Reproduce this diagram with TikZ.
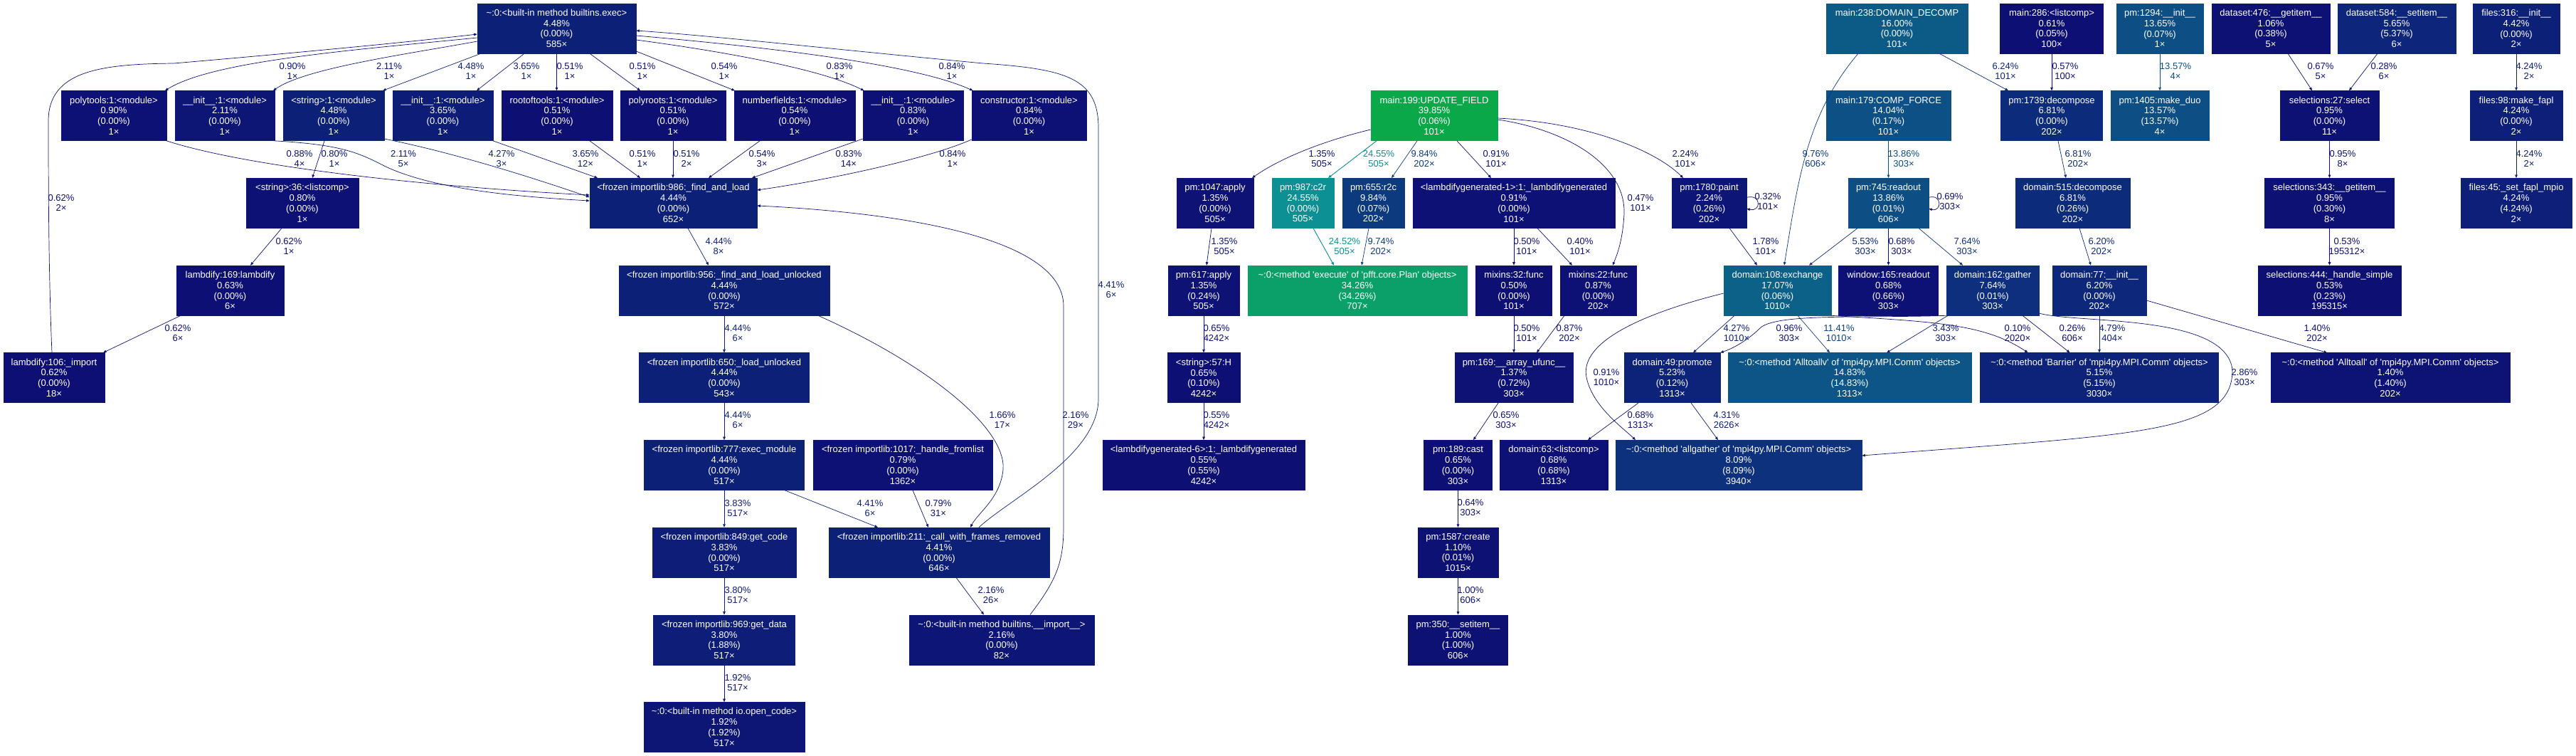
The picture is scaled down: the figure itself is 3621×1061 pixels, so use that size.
\documentclass[tikz,border=0pt]{standalone}
\usepackage{fontspec}
\setmainfont{Liberation Sans}[Ligatures=TeXOff]
\usetikzlibrary{arrows.meta}
\newcommand\gvfont{\fontsize{13pt}{14.8pt}\selectfont}
\newcommand\gpcalc[1]{%
  \pgfmathsetmacro\gpL{0.25+0.25*#1}%
  \pgfmathsetmacro\gpS{0.8+0.2*#1}%
  \pgfmathsetmacro\gpMtwo{\gpL*(1+\gpS)}%
  \pgfmathsetmacro\gpMone{\gpL*(1-\gpS)}%
  \pgfmathsetmacro\gpG{ifthenelse(#1<0.25,\gpMone+(\gpMtwo-\gpMone)*4*#1,\gpMtwo)}%
  \pgfmathsetmacro\gpB{ifthenelse(#1<0.25,\gpMtwo,\gpMone+(\gpMtwo-\gpMone)*(2-4*#1))}%
  \definecolor{gpc}{rgb}{\gpMone,\gpG,\gpB}}
\tikzset{
  gn/.code={\gpcalc{#1}\pgfkeysalso{draw=gpc,fill=gpc,text=white,line width=0.6pt,align=center,minimum height=70pt,inner sep=1pt,font=\gvfont}},
  el/.code={\gpcalc{#1}\pgfkeysalso{text=gpc,align=center,inner sep=0pt,font=\gvfont}},
  ge/.code={\gpcalc{#1}\pgfmathsetmacro\gpW{max(0.7,3.7*#1)}\pgfkeysalso{draw=gpc,line width=\gpW pt,-{Triangle[length=4.5pt,width=3.6pt]}}},
}
\begin{document}
\begin{tikzpicture}[x=1pt,y=-1pt]
\fill[white] (0,0) rectangle (3621,1061);
\useasboundingbox (0,0) rectangle (3621,1061);
% ---------- row 0
\node[gn=0.0448,minimum width=223pt] (exec) at (782.5,39.9) {\textasciitilde:0:<built-in method builtins.exec>\\4.48\%\\(0.00\%)\\585×};
\node[gn=0.16,minimum width=199pt] (decomp) at (2666.5,39.9) {main:238:DOMAIN\_DECOMP\\16.00\%\\(0.00\%)\\101×};
\node[gn=0.0061,minimum width=145pt] (lc286) at (2884,39.9) {main:286:<listcomp>\\0.61\%\\(0.05\%)\\100×};
\node[gn=0.1365,minimum width=122pt] (pm1294) at (3036,39.9) {pm:1294:\_\_init\_\_\\13.65\%\\(0.07\%)\\1×};
\node[gn=0.0106,minimum width=166pt] (ds476) at (3192,39.9) {dataset:476:\_\_getitem\_\_\\1.06\%\\(0.38\%)\\5×};
\node[gn=0.0565,minimum width=166pt] (ds584) at (3369,39.9) {dataset:584:\_\_setitem\_\_\\5.65\%\\(5.37\%)\\6×};
\node[gn=0.0442,minimum width=122pt] (f316) at (3537,39.9) {files:316:\_\_init\_\_\\4.42\%\\(0.00\%)\\2×};
% ---------- row 1
\node[gn=0.0090,minimum width=148pt] (polytools) at (160,162.6) {polytools:1:<module>\\0.90\%\\(0.00\%)\\1×};
\node[gn=0.0211,minimum width=140pt] (init211) at (316,162.6) {\_\_init\_\_:1:<module>\\2.11\%\\(0.00\%)\\1×};
\node[gn=0.0448,minimum width=142pt] (str1) at (469,162.6) {<string>:1:<module>\\4.48\%\\(0.00\%)\\1×};
\node[gn=0.0365,minimum width=141pt] (init365) at (622.5,162.6) {\_\_init\_\_:1:<module>\\3.65\%\\(0.00\%)\\1×};
\node[gn=0.0051,minimum width=156pt] (rootof) at (783,162.6) {rootoftools:1:<module>\\0.51\%\\(0.00\%)\\1×};
\node[gn=0.0051,minimum width=148pt] (polyroots) at (946,162.6) {polyroots:1:<module>\\0.51\%\\(0.00\%)\\1×};
\node[gn=0.0054,minimum width=170pt] (numfields) at (1117,162.6) {numberfields:1:<module>\\0.54\%\\(0.00\%)\\1×};
\node[gn=0.0083,minimum width=141pt] (init083) at (1283.5,162.6) {\_\_init\_\_:1:<module>\\0.83\%\\(0.00\%)\\1×};
\node[gn=0.0084,minimum width=161pt] (constructor) at (1446.5,162.6) {constructor:1:<module>\\0.84\%\\(0.00\%)\\1×};
\node[gn=0.3985,minimum width=178pt] (update) at (2016,162.6) {main:199:UPDATE\_FIELD\\39.85\%\\(0.06\%)\\101×};
\node[gn=0.1404,minimum width=175pt] (compforce) at (2654.5,162.6) {main:179:COMP\_FORCE\\14.04\%\\(0.17\%)\\101×};
\node[gn=0.0681,minimum width=143pt] (pm1739) at (2884,162.6) {pm:1739:decompose\\6.81\%\\(0.00\%)\\202×};
\node[gn=0.1357,minimum width=138pt] (makeduo) at (3036,162.6) {pm:1405:make\_duo\\13.57\%\\(13.57\%)\\4×};
\node[gn=0.0095,minimum width=139pt] (sel27) at (3274.5,162.6) {selections:27:select\\0.95\%\\(0.00\%)\\11×};
\node[gn=0.0424,minimum width=130pt] (f98) at (3537,162.6) {files:98:make\_fapl\\4.24\%\\(0.00\%)\\2×};
% ---------- row 2
\node[gn=0.0080,minimum width=158pt] (lc36) at (425,285.3) {<string>:36:<listcomp>\\0.80\%\\(0.00\%)\\1×};
\node[gn=0.0444,minimum width=235pt] (findload) at (946.5,285.3) {<frozen importlib:986:\_find\_and\_load\\4.44\%\\(0.00\%)\\652×};
\node[gn=0.0135,minimum width=108pt] (pm1047) at (1708,285.3) {pm:1047:apply\\1.35\%\\(0.00\%)\\505×};
\node[gn=0.2455,minimum width=87pt] (c2r) at (1831.5,285.3) {pm:987:c2r\\24.55\%\\(0.00\%)\\505×};
\node[gn=0.0984,minimum width=87pt] (r2c) at (1930.5,285.3) {pm:655:r2c\\9.84\%\\(0.07\%)\\202×};
\node[gn=0.0091,minimum width=284pt] (lg1) at (2128,285.3) {<lambdifygenerated-1>:1:\_lambdifygenerated\\0.91\%\\(0.00\%)\\101×};
\node[gn=0.0224,minimum width=105pt] (paint) at (2402.5,285.3) {pm:1780:paint\\2.24\%\\(0.26\%)\\202×};
\node[gn=0.1386,minimum width=113pt] (readout) at (2654.5,285.3) {pm:745:readout\\13.86\%\\(0.01\%)\\606×};
\node[gn=0.0681,minimum width=161pt] (dom515) at (2913.5,285.3) {domain:515:decompose\\6.81\%\\(0.26\%)\\202×};
\node[gn=0.0095,minimum width=182pt] (sel343) at (3274.5,285.3) {selections:343:\_\_getitem\_\_\\0.95\%\\(0.30\%)\\8×};
\node[gn=0.0424,minimum width=156pt] (f45) at (3537,285.3) {files:45:\_set\_fapl\_mpio\\4.24\%\\(4.24\%)\\2×};
% ---------- row 3
\node[gn=0.0063,minimum width=151pt] (lamb169) at (323.5,408) {lambdify:169:lambdify\\0.63\%\\(0.00\%)\\6×};
\node[gn=0.0444,minimum width=296pt] (falu) at (1018,408) {<frozen importlib:956:\_find\_and\_load\_unlocked\\4.44\%\\(0.00\%)\\572×};
\node[gn=0.0135,minimum width=100pt] (pm617) at (1692,408) {pm:617:apply\\1.35\%\\(0.24\%)\\505×};
\node[gn=0.3426,minimum width=308pt] (execute) at (1908,408) {\textasciitilde:0:<method 'execute' of 'pfft.core.Plan' objects>\\34.26\%\\(34.26\%)\\707×};
\node[gn=0.0050,minimum width=107pt] (mix32) at (2128,408) {mixins:32:func\\0.50\%\\(0.00\%)\\101×};
\node[gn=0.0087,minimum width=107pt] (mix22) at (2246.5,408) {mixins:22:func\\0.87\%\\(0.00\%)\\202×};
\node[gn=0.1707,minimum width=151pt] (exchange) at (2498.5,408) {domain:108:exchange\\17.07\%\\(0.06\%)\\1010×};
\node[gn=0.0068,minimum width=140pt] (window) at (2654.5,408) {window:165:readout\\0.68\%\\(0.66\%)\\303×};
\node[gn=0.0764,minimum width=130pt] (gather) at (2801,408) {domain:162:gather\\7.64\%\\(0.01\%)\\303×};
\node[gn=0.0620,minimum width=132pt] (dom77) at (2951,408) {domain:77:\_\_init\_\_\\6.20\%\\(0.00\%)\\202×};
\node[gn=0.0053,minimum width=201pt] (sel444) at (3274.5,408) {selections:444:\_handle\_simple\\0.53\%\\(0.23\%)\\195315×};
% ---------- row 4
\node[gn=0.0062,minimum width=142pt] (lamb106) at (76,530.7) {lambdify:106:\_import\\0.62\%\\(0.00\%)\\18×};
\node[gn=0.0444,minimum width=239pt] (lu650) at (1018,530.7) {<frozen importlib:650:\_load\_unlocked\\4.44\%\\(0.00\%)\\543×};
\node[gn=0.0065,minimum width=102pt] (strH) at (1692,530.7) {<string>:57:H\\0.65\%\\(0.10\%)\\4242×};
\node[gn=0.0137,minimum width=166pt] (ufunc) at (2128,530.7) {pm:169:\_\_array\_ufunc\_\_\\1.37\%\\(0.72\%)\\303×};
\node[gn=0.0523,minimum width=135pt] (promote) at (2350.5,530.7) {domain:49:promote\\5.23\%\\(0.12\%)\\1313×};
\node[gn=0.1483,minimum width=342pt] (alltoallv) at (2600,530.7) {\textasciitilde:0:<method 'Alltoallv' of 'mpi4py.MPI.Comm' objects>\\14.83\%\\(14.83\%)\\1313×};
\node[gn=0.0515,minimum width=335pt] (barrier) at (2951,530.7) {\textasciitilde:0:<method 'Barrier' of 'mpi4py.MPI.Comm' objects>\\5.15\%\\(5.15\%)\\3030×};
\node[gn=0.0140,minimum width=336pt] (alltoall) at (3360,530.7) {\textasciitilde:0:<method 'Alltoall' of 'mpi4py.MPI.Comm' objects>\\1.40\%\\(1.40\%)\\202×};
% ---------- row 5
\node[gn=0.0444,minimum width=225pt] (execmod) at (1018,653.4) {<frozen importlib:777:exec\_module\\4.44\%\\(0.00\%)\\517×};
\node[gn=0.0079,minimum width=252pt] (fromlist) at (1269,653.4) {<frozen importlib:1017:\_handle\_fromlist\\0.79\%\\(0.00\%)\\1362×};
\node[gn=0.0055,minimum width=284pt] (lg6) at (1692,653.4) {<lambdifygenerated-6>:1:\_lambdifygenerated\\0.55\%\\(0.55\%)\\4242×};
\node[gn=0.0065,minimum width=96pt] (cast) at (2049.5,653.4) {pm:189:cast\\0.65\%\\(0.00\%)\\303×};
\node[gn=0.0068,minimum width=152pt] (dom63) at (2184,653.4) {domain:63:<listcomp>\\0.68\%\\(0.68\%)\\1313×};
\node[gn=0.0809,minimum width=346pt] (allgather) at (2444,653.4) {\textasciitilde:0:<method 'allgather' of 'mpi4py.MPI.Comm' objects>\\8.09\%\\(8.09\%)\\3940×};
% ---------- row 6
\node[gn=0.0383,minimum width=202pt] (getcode) at (1018,776.1) {<frozen importlib:849:get\_code\\3.83\%\\(0.00\%)\\517×};
\node[gn=0.0441,minimum width=310pt] (cwfr) at (1320,776.1) {<frozen importlib:211:\_call\_with\_frames\_removed\\4.41\%\\(0.00\%)\\646×};
\node[gn=0.0110,minimum width=113pt] (create) at (2049.5,776.1) {pm:1587:create\\1.10\%\\(0.01\%)\\1015×};
% ---------- row 7
\node[gn=0.0380,minimum width=199pt] (getdata) at (1018,898.8) {<frozen importlib:969:get\_data\\3.80\%\\(1.88\%)\\517×};
\node[gn=0.0216,minimum width=260pt] (bimport) at (1408,898.8) {\textasciitilde:0:<built-in method builtins.\_\_import\_\_>\\2.16\%\\(0.00\%)\\82×};
\node[gn=0.0100,minimum width=140pt] (setitem) at (2049.5,898.8) {pm:350:\_\_setitem\_\_\\1.00\%\\(1.00\%)\\606×};
% ---------- row 8
\node[gn=0.0192,minimum width=226pt] (opencode) at (1018,1021.5) {\textasciitilde:0:<built-in method io.open\_code>\\1.92\%\\(1.92\%)\\517×};

% ================= edges: import part
\draw[ge=0.0090] ([yshift=-13.1pt]exec.west) .. controls (500,70) and (300,85) .. ([xshift=72pt]polytools.north);
\draw[ge=0.0211] ([yshift=-18.1pt]exec.west) .. controls (580,75) and (430,95) .. ([xshift=68pt]init211.north);
\draw[ge=0.0448] ([xshift=-106.5pt]exec.south) -- ([xshift=69pt]str1.north);
\draw[ge=0.0365] ([xshift=-45.5pt]exec.south) -- ([xshift=47.5pt]init365.north);
\draw[ge=0.0051] (exec.south) -- (exec.south |- rootof.north);
\draw[ge=0.0051] ([xshift=46.5pt]exec.south) -- ([xshift=-46pt]polyroots.north);
\draw[ge=0.0054] ([yshift=-32.1pt]exec.east) -- ([xshift=-84pt]numfields.north);
\draw[ge=0.0083] ([yshift=-16.1pt]exec.east) .. controls (1000,70) and (1150,95) .. ([xshift=-69pt]init083.north);
\draw[ge=0.0084] ([yshift=-10.1pt]exec.east) .. controls (1100,68) and (1290,92) .. ([xshift=-79pt]constructor.north);
\draw[ge=0.0441] ([xshift=56pt]cwfr.north) .. controls (1420,700) and (1544,640) .. (1544,560) -- (1544,180) .. controls (1544,110) and (1500,97) .. (1382,89) .. controls (1200,72) and (1000,50) .. ([yshift=-3.1pt]exec.east);
\draw[ge=0.0062] ([xshift=-3pt]lamb106.north) .. controls (69,400) and (68,300) .. (68,170) .. controls (68,100) and (140,90) .. (244,89) .. controls (350,80) and (550,62) .. ([yshift=-8.1pt]exec.west);
\draw[ge=0.0088] (polytools.south east) .. controls (350,235) and (600,262) .. ([yshift=11.3pt]findload.west);
\draw[ge=0.0211] (init211.south east) .. controls (480,203) and (505,215) .. (540,233) .. controls (600,262) and (700,275) .. ([yshift=3.3pt]findload.west);
\draw[ge=0.0427] ([yshift=-32.4pt]str1.east) .. controls (640,215) and (750,250) .. ([yshift=8.3pt]findload.west);
\draw[ge=0.0365] (init365.south east) -- ([xshift=-106.5pt]findload.north);
\draw[ge=0.0051] ([xshift=46pt]rootof.south) -- ([xshift=-46.5pt]findload.north);
\draw[ge=0.0051] (polyroots.south) -- (polyroots.south |- findload.north);
\draw[ge=0.0054] ([xshift=-49pt]numfields.south) -- ([xshift=49.5pt]findload.north);
\draw[ge=0.0083] ([yshift=-32.4pt]init083.west) -- ([xshift=110.5pt]findload.north);
\draw[ge=0.0084] ([yshift=-33.4pt]constructor.west) .. controls (1300,225) and (1150,255) .. ([yshift=18.3pt]findload.east);
\draw[ge=0.0216] ([xshift=40pt]bimport.north) .. controls (1485,815) and (1495,790) .. (1495,740) -- (1495,430) .. controls (1495,330) and (1250,298) .. ([yshift=-3.7pt]findload.east);
\draw[ge=0.0444] ([xshift=20.5pt]findload.south) -- ([xshift=-22pt]falu.north);
\draw[ge=0.0444] (falu.south) -- (lu650.north);
\draw[ge=0.0444] (lu650.south) -- (execmod.north);
\draw[ge=0.0383] (execmod.south) -- (getcode.north);
\draw[ge=0.0380] (getcode.south) -- (getdata.north);
\draw[ge=0.0192] (getdata.south) -- (opencode.north);
\draw[ge=0.0166] ([xshift=132pt]falu.south) .. controls (1300,510) and (1415,600) .. (1410,660) .. controls (1406,700) and (1375,720) .. ([xshift=44pt]cwfr.north);
\draw[ge=0.0441] ([xshift=85pt]execmod.south) -- ([xshift=-86pt]cwfr.north);
\draw[ge=0.0079] ([xshift=14pt]fromlist.south) -- ([xshift=-15pt]cwfr.north);
\draw[ge=0.0216] ([xshift=24pt]cwfr.south) -- ([xshift=-25pt]bimport.north);
\draw[ge=0.0062] ([xshift=-29pt]lc36.south) -- ([xshift=28.5pt]lamb169.north);
\draw[ge=0.0080] ([xshift=-13pt]str1.south) -- ([xshift=14pt]lc36.north);
\draw[ge=0.0062] ([xshift=-69.5pt]lamb169.south) -- ([xshift=69pt]lamb106.north);
% ================= edges: middle part
\draw[ge=0.0135] ([yshift=-19.4pt]update.west) .. controls (1860,198) and (1800,222) .. ([xshift=52pt]pm1047.north);
\draw[ge=0.2455] ([xshift=-81pt]update.south) -- ([xshift=35.5pt]c2r.north);
\draw[ge=0.0984] ([xshift=-24pt]update.south) -- ([xshift=25.5pt]r2c.north);
\draw[ge=0.0091] ([xshift=32pt]update.south) -- ([xshift=-32pt]lg1.north);
\draw[ge=0.0047] ([yshift=-5.4pt]update.east) .. controls (2200,182) and (2285,230) .. (2283,300) .. controls (2281,340) and (2272,360) .. ([xshift=20.5pt]mix22.north);
\draw[ge=0.0224] ([yshift=-3.4pt]update.east) .. controls (2230,172) and (2325,210) .. ([xshift=-36.5pt]paint.north);
\draw[ge=0.0032] ([yshift=8pt]paint.east) .. controls (2476,272) and (2476,298) .. ([yshift=-8pt]paint.east);
\draw[ge=0.2452] ([xshift=14.5pt]c2r.south) -- ([xshift=-33pt]execute.north);
\draw[ge=0.0974] ([xshift=-6.5pt]r2c.south) -- ([xshift=6pt]execute.north);
\draw[ge=0.0050] (lg1.south) -- (mix32.north);
\draw[ge=0.0040] ([xshift=33pt]lg1.south) -- ([xshift=-36.5pt]mix22.north);
\draw[ge=0.0135] ([xshift=-5pt]pm1047.south) -- ([xshift=4pt]pm617.north);
\draw[ge=0.0065] (pm617.south) -- (strH.north);
\draw[ge=0.0055] (strH.south) -- (lg6.north);
\draw[ge=0.0050] (mix32.south) -- (ufunc.north);
\draw[ge=0.0087] ([xshift=-47.5pt]mix22.south) -- ([xshift=32pt]ufunc.north);
\draw[ge=0.0065] ([xshift=-22pt]ufunc.south) -- ([xshift=21.5pt]cast.north);
\draw[ge=0.0064] (cast.south) -- (create.north);
\draw[ge=0.0100] (create.south) -- (setitem.north);
% ================= edges: right part
\draw[ge=0.0976] ([xshift=-54.5pt]decomp.south) .. controls (2540,160) and (2528,250) .. ([xshift=9.5pt]exchange.north);
\draw[ge=0.0624] ([xshift=59.5pt]decomp.south) -- ([xshift=-61pt]pm1739.north);
\draw[ge=0.0057] (lc286.south) -- (pm1739.north);
\draw[ge=0.1357] (pm1294.south) -- (makeduo.north);
\draw[ge=0.0067] ([xshift=24pt]ds476.south) -- ([xshift=-24.5pt]sel27.north);
\draw[ge=0.0028] ([xshift=-27pt]ds584.south) -- ([xshift=27.5pt]sel27.north);
\draw[ge=0.0424] (f316.south) -- (f98.north);
\draw[ge=0.0424] (f98.south) -- (f45.north);
\draw[ge=0.0095] (sel27.south) -- (sel343.north);
\draw[ge=0.0053] (sel343.south) -- (sel444.north);
\draw[ge=0.1386] (compforce.south) -- (readout.north);
\draw[ge=0.0069] ([yshift=8pt]readout.east) .. controls (2730,272) and (2730,298) .. ([yshift=-8pt]readout.east);
\draw[ge=0.0681] ([xshift=9pt]pm1739.south) -- ([xshift=-9.5pt]dom515.north);
\draw[ge=0.0620] ([xshift=9.5pt]dom515.south) -- ([xshift=-12pt]dom77.north);
\draw[ge=0.0553] ([xshift=-43.5pt]readout.south) -- ([xshift=44.5pt]exchange.north);
\draw[ge=0.0068] (readout.south) -- (window.north);
\draw[ge=0.0764] ([xshift=42.5pt]readout.south) -- ([xshift=-42pt]gather.north);
\draw[ge=0.0178] ([xshift=28.5pt]paint.south) -- ([xshift=-28.5pt]exchange.north);
\draw[ge=0.0427] ([xshift=-60.5pt]exchange.south) -- ([xshift=29.5pt]promote.north);
\draw[ge=0.0091] ([yshift=-4pt]exchange.west) .. controls (2310,440) and (2220,480) .. (2230,530) .. controls (2238,570) and (2280,600) .. ([xshift=-145pt]allgather.north);
\draw[ge=0.1141] ([xshift=28.5pt]exchange.south) -- ([xshift=-28pt]alltoallv.north);
\draw[ge=0.0010] (exchange.south east) .. controls (2720,452) and (2790,455) .. ([xshift=-100.5pt]barrier.north);
\draw[ge=0.0096] (gather.south west) .. controls (2620,447) and (2500,440) .. (2475,460) .. controls (2460,475) and (2440,488) .. (promote.north east);
\draw[ge=0.0343] ([xshift=-63pt]gather.south) -- ([xshift=52pt]alltoallv.north);
\draw[ge=0.0026] ([xshift=42pt]gather.south) -- ([xshift=-41.5pt]barrier.north);
\draw[ge=0.0286] ([yshift=-32pt]gather.east) .. controls (2920,455) and (3130,440) .. (3138,520) .. controls (3138,610) and (3000,610) .. ([yshift=13.4pt]allgather.east);
\draw[ge=0.0479] (dom77.south) -- (barrier.north);
\draw[ge=0.0140] ([yshift=-14pt]dom77.east) -- ([xshift=-89pt]alltoall.north);
\draw[ge=0.0068] ([xshift=-47.5pt]promote.south) -- ([xshift=48pt]dom63.north);
\draw[ge=0.0431] ([xshift=26.5pt]promote.south) -- ([xshift=-29pt]allgather.north);

% ================= edge labels
\node[el=0.0090] (l1) at (411,100) {0.90\%\\1×};
\node[el=0.0211] (l2) at (547,100) {2.11\%\\1×};
\node[el=0.0448] (l3) at (662,100) {4.48\%\\1×};
\node[el=0.0365] (l4) at (740,100) {3.65\%\\1×};
\node[el=0.0051] (l5) at (801,100) {0.51\%\\1×};
\node[el=0.0051] (l6) at (903,100) {0.51\%\\1×};
\node[el=0.0054] (l7) at (1018,100) {0.54\%\\1×};
\node[el=0.0083] (l8) at (1180,100) {0.83\%\\1×};
\node[el=0.0084] (l9) at (1338,100) {0.84\%\\1×};
\node[el=0.0062] (l10) at (86,285) {0.62\%\\2×};
\node[el=0.0088] (l11) at (421,223) {0.88\%\\4×};
\node[el=0.0080] (l12) at (470,223) {0.80\%\\1×};
\node[el=0.0211] (l13) at (567,223) {2.11\%\\5×};
\node[el=0.0427] (l14) at (705,223) {4.27\%\\3×};
\node[el=0.0365] (l15) at (823,223) {3.65\%\\12×};
\node[el=0.0051] (l16) at (903,223) {0.51\%\\1×};
\node[el=0.0051] (l17) at (965,223) {0.51\%\\2×};
\node[el=0.0054] (l18) at (1071,223) {0.54\%\\3×};
\node[el=0.0083] (l19) at (1193,223) {0.83\%\\14×};
\node[el=0.0084] (l20) at (1339,223) {0.84\%\\1×};
\node[el=0.0062] (l21) at (406,346) {0.62\%\\1×};
\node[el=0.0444] (l22) at (1010,346) {4.44\%\\8×};
\node[el=0.0062] (l23) at (250,468) {0.62\%\\6×};
\node[el=0.0444] (l24) at (1037,468) {4.44\%\\6×};
\node[el=0.0444] (l25) at (1037,590) {4.44\%\\6×};
\node[el=0.0383] (l26) at (1037,714) {3.83\%\\517×};
\node[el=0.0380] (l27) at (1037,836) {3.80\%\\517×};
\node[el=0.0192] (l28) at (1037,959) {1.92\%\\517×};
\node[el=0.0441] (l29) at (1223,714) {4.41\%\\6×};
\node[el=0.0079] (l30) at (1319,714) {0.79\%\\31×};
\node[el=0.0166] (l31) at (1409,590) {1.66\%\\17×};
\node[el=0.0216] (l32) at (1512,590) {2.16\%\\29×};
\node[el=0.0441] (l33) at (1562,407) {4.41\%\\6×};
\node[el=0.0216] (l34) at (1393,836) {2.16\%\\26×};
\node[el=0.0135] (l35) at (1858,223) {1.35\%\\505×};
\node[el=0.2455] (l36) at (1938,223) {24.55\%\\505×};
\node[el=0.0984] (l37) at (2002,223) {9.84\%\\202×};
\node[el=0.0091] (l38) at (2103,223) {0.91\%\\101×};
\node[el=0.0047] (l39) at (2306,285) {0.47\%\\101×};
\node[el=0.0224] (l40) at (2369,223) {2.24\%\\101×};
\node[el=0.0032] (l41) at (2485,283) {0.32\%\\101×};
\node[el=0.2452] (l42) at (1890,346) {24.52\%\\505×};
\node[el=0.0974] (l43) at (1941,346) {9.74\%\\202×};
\node[el=0.0050] (l44) at (2146,346) {0.50\%\\101×};
\node[el=0.0040] (l45) at (2221,346) {0.40\%\\101×};
\node[el=0.0135] (l46) at (1721,346) {1.35\%\\505×};
\node[el=0.0065] (l47) at (1710,468) {0.65\%\\4242×};
\node[el=0.0055] (l48) at (1710,590) {0.55\%\\4242×};
\node[el=0.0050] (l49) at (2146,468) {0.50\%\\101×};
\node[el=0.0087] (l50) at (2206,468) {0.87\%\\202×};
\node[el=0.0065] (l51) at (2117,590) {0.65\%\\303×};
\node[el=0.0064] (l52) at (2067,713) {0.64\%\\303×};
\node[el=0.0100] (l53) at (2067,836) {1.00\%\\606×};
\node[el=0.0976] (l54) at (2552,223) {9.76\%\\606×};
\node[el=0.0624] (l55) at (2819,100) {6.24\%\\101×};
\node[el=0.0057] (l56) at (2903,100) {0.57\%\\100×};
\node[el=0.1357] (l57) at (3058,100) {13.57\%\\4×};
\node[el=0.0067] (l58) at (3262,100) {0.67\%\\5×};
\node[el=0.0028] (l59) at (3351,100) {0.28\%\\6×};
\node[el=0.0424] (l60) at (3555,100) {4.24\%\\2×};
\node[el=0.0424] (l61) at (3555,223) {4.24\%\\2×};
\node[el=0.0095] (l62) at (3293,223) {0.95\%\\8×};
\node[el=0.0053] (l63) at (3299,346) {0.53\%\\195312×};
\node[el=0.1386] (l64) at (2676,223) {13.86\%\\303×};
\node[el=0.0069] (l65) at (2741,283) {0.69\%\\303×};
\node[el=0.0681] (l66) at (2921,223) {6.81\%\\202×};
\node[el=0.0620] (l67) at (2954,346) {6.20\%\\202×};
\node[el=0.0553] (l68) at (2622,346) {5.53\%\\303×};
\node[el=0.0068] (l69) at (2673,346) {0.68\%\\303×};
\node[el=0.0764] (l70) at (2765,346) {7.64\%\\303×};
\node[el=0.0178] (l71) at (2482,346) {1.78\%\\101×};
\node[el=0.0427] (l72) at (2441,468) {4.27\%\\1010×};
\node[el=0.0091] (l73) at (2258,530) {0.91\%\\1010×};
\node[el=0.1141] (l74) at (2585,468) {11.41\%\\1010×};
\node[el=0.0010] (l75) at (2836,468) {0.10\%\\2020×};
\node[el=0.0096] (l76) at (2515,468) {0.96\%\\303×};
\node[el=0.0343] (l77) at (2735,468) {3.43\%\\303×};
\node[el=0.0026] (l78) at (2913,468) {0.26\%\\606×};
\node[el=0.0286] (l79) at (3155,530) {2.86\%\\303×};
\node[el=0.0479] (l80) at (2969,468) {4.79\%\\404×};
\node[el=0.0140] (l81) at (3257,468) {1.40\%\\202×};
\node[el=0.0068] (l82) at (2306,590) {0.68\%\\1313×};
\node[el=0.0431] (l83) at (2427,590) {4.31\%\\2626×};
\end{tikzpicture}
\end{document}
